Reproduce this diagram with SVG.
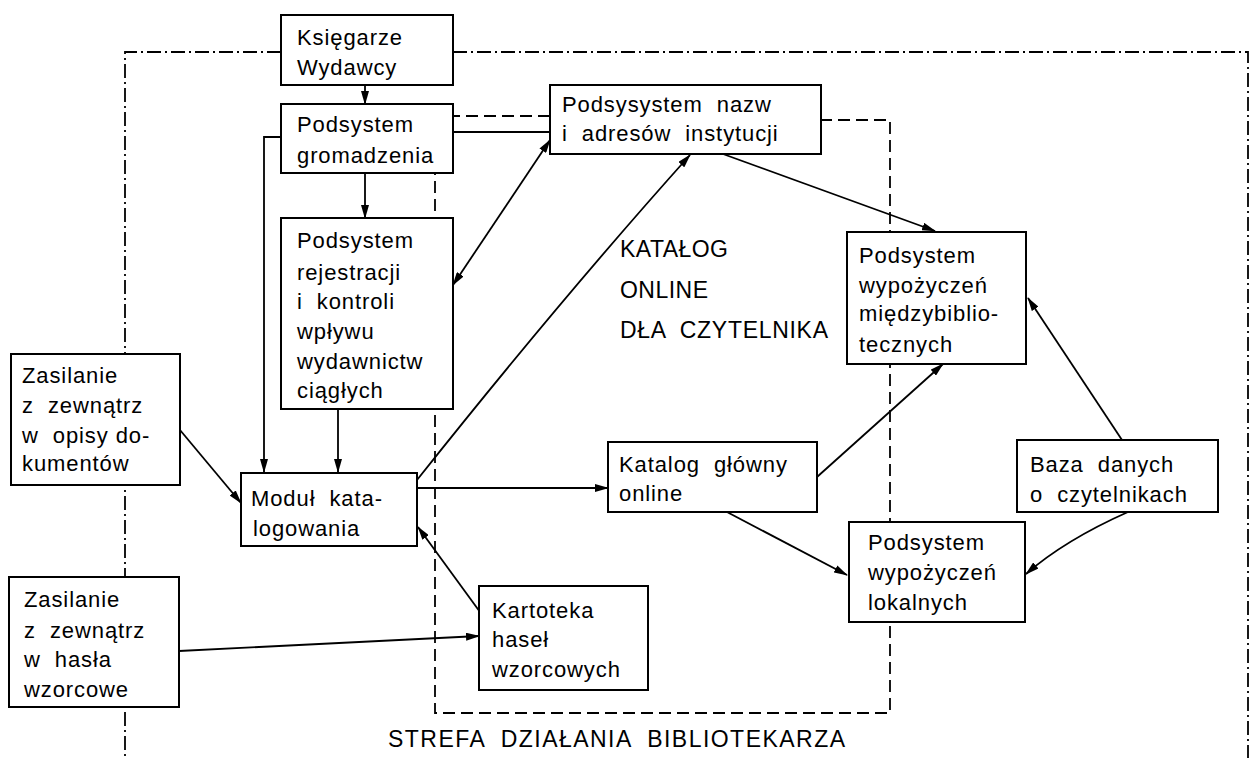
<svg xmlns="http://www.w3.org/2000/svg" width="1253" height="758" viewBox="0 0 1253 758">
<style>
.bx{fill:#fff;stroke:#000;stroke-width:2}
.t{font-family:"Liberation Sans",Arial,sans-serif;font-size:22px;letter-spacing:0.9px;fill:#000;white-space:pre}
.c{fill:none;stroke:#000;stroke-width:1.8}
.a{marker-end:url(#ah)}
.zone{fill:none;stroke:#000;stroke-width:1.8}
.lbl{font-family:"Liberation Sans",Arial,sans-serif;font-size:23px;fill:#000;white-space:pre}
</style>
<defs>
<marker id="ah" markerUnits="userSpaceOnUse" markerWidth="14" markerHeight="8" refX="13" refY="4" orient="auto-start-reverse">
<path d="M0,0 L14,4 L0,8 Z" fill="#000"/>
</marker>
</defs>
<rect width="1253" height="758" fill="#fff"/>
<g id="zones">
<path class="zone" d="M281,52 H125 V758 M453,52 H1248 V758" stroke-dasharray="14 4 2 4"/>
<path class="zone" d="M550,116 H435 V713 H890 V120 H821" stroke-dasharray="12 6"/>
</g>
<g id="connectors">
<path class="c a" d="M365,85 V104"/>
<path class="c a" d="M365,173 V218"/>
<path class="c a" d="M281,137 H264 V472"/>
<path class="c" d="M453,132 H550"/>
<path class="c a" d="M338,409 V472"/>
<path class="c a" d="M453,285 L550,140" style="marker-start:url(#ah)"/>
<path class="c a" d="M417,480 Q560,300 690,155"/>
<path class="c a" d="M723,154 L935,231"/>
<path class="c a" d="M180,430 L241,503"/>
<path class="c a" d="M179,651 L479,636"/>
<path class="c a" d="M480,612 L418,527"/>
<path class="c a" d="M417,488 H608"/>
<path class="c a" d="M817,477 L943,364"/>
<path class="c a" d="M727,512 L847,575"/>
<path class="c a" d="M1122,440 L1028,298"/>
<path class="c a" d="M1128,512 Q1065,540 1026,574"/>
</g>
<g id="ksiegarze"><rect class="bx" x="281" y="15" width="172" height="70"/><text class="t" x="297" y="45">Księgarze</text><text class="t" x="297" y="75">Wydawcy</text></g>
<g id="gromadzenie"><rect class="bx" x="281" y="104" width="172" height="69"/><text class="t" x="297" y="132">Podsystem</text><text class="t" x="297" y="163">gromadzenia</text></g>
<g id="rejestracja"><rect class="bx" x="281" y="218" width="172" height="191"/>
<text class="t" x="297" y="248">Podsystem</text><text class="t" x="297" y="280">rejestracji</text><text class="t" x="297" y="309">i  kontroli</text><text class="t" x="297" y="339">wpływu</text><text class="t" x="297" y="369">wydawnictw</text><text class="t" x="297" y="398">ciągłych</text></g>
<g id="nazwy"><rect class="bx" x="550" y="85" width="271" height="69"/><text class="t" x="562" y="112">Podsysystem  nazw</text><text class="t" x="562" y="141">i  adresów  instytucji</text></g>
<g id="zasilanie1"><rect class="bx" x="11" y="354" width="169" height="131"/><text class="t" x="22" y="383">Zasilanie</text><text class="t" x="22" y="413">z  zewnątrz</text><text class="t" x="22" y="443">w  opisy do-</text><text class="t" x="22" y="471">kumentów</text></g>
<g id="modul"><rect class="bx" x="241" y="473" width="176" height="73"/><text class="t" x="251" y="506">Moduł  kata-</text><text class="t" x="253" y="536">logowania</text></g>
<g id="zasilanie2"><rect class="bx" x="9" y="577" width="170" height="130"/><text class="t" x="24" y="607">Zasilanie</text><text class="t" x="24" y="638">z  zewnątrz</text><text class="t" x="24" y="667">w  hasła</text><text class="t" x="24" y="697">wzorcowe</text></g>
<g id="kartoteka"><rect class="bx" x="479" y="586" width="169" height="104"/><text class="t" x="492" y="618">Kartoteka</text><text class="t" x="492" y="647">haseł</text><text class="t" x="492" y="677">wzorcowych</text></g>
<g id="katalog"><rect class="bx" x="608" y="442" width="209" height="70"/><text class="t" x="619" y="472">Katalog  główny</text><text class="t" x="619" y="501">online</text></g>
<g id="miedzybiblio"><rect class="bx" x="847" y="232" width="179" height="132"/><text class="t" x="859" y="263">Podsystem</text><text class="t" x="859" y="293">wypożyczeń</text><text class="t" x="859" y="321">międzybiblio-</text><text class="t" x="859" y="352">tecznych</text></g>
<g id="lokalne"><rect class="bx" x="849" y="522" width="176" height="100"/><text class="t" x="868" y="550">Podsystem</text><text class="t" x="868" y="580">wypożyczeń</text><text class="t" x="868" y="610">lokalnych</text></g>
<g id="czytelnicy"><rect class="bx" x="1017" y="440" width="201" height="72"/><text class="t" x="1030" y="472">Baza  danych</text><text class="t" x="1030" y="502">o  czytelnikach</text></g>
<g id="labels">
<text class="lbl" x="620" y="257" textLength="108">KATAŁOG</text>
<text class="lbl" x="620" y="298" textLength="88">ONLINE</text>
<text class="lbl" x="620" y="338" textLength="208">DŁA  CZYTELNIKA</text>
<text class="lbl" x="388" y="747" textLength="457">STREFA  DZIAŁANIA  BIBLIOTEKARZA</text>
</g>
</svg>
